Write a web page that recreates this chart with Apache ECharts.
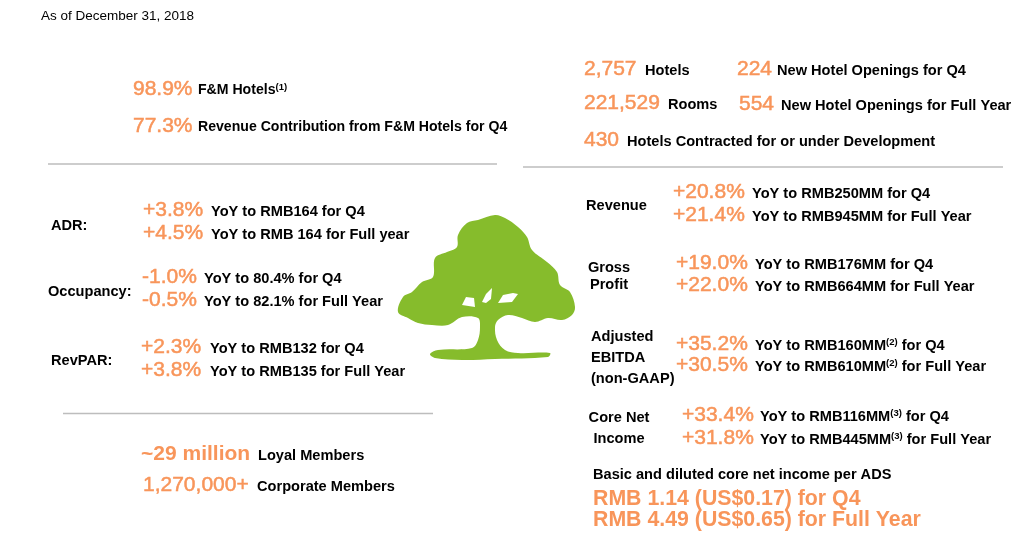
<!DOCTYPE html>
<html>
<head>
<meta charset="utf-8">
<script src="https://cdn.jsdelivr.net/npm/echarts@6/dist/echarts.min.js"></script>
<style>
    html, body { margin: 0; padding: 0; background: #fff; }
    #container { width: 1013px; height: 541px; }
</style>
</head>
<body>
<div id="container"></div>
<script>
// ---- data ----
var asOfDate = 'As of December 31, 2018';

var mixValues = ['98.9%', '77.3%'];
var mixLabels = ['F&M Hotels', 'Revenue Contribution from F&M Hotels for Q4'];
var mixNotes = ['(1)', ''];

var networkValues = ['2,757', '221,529', '224', '554', '430'];
var networkLabels = ['Hotels', 'Rooms', 'New Hotel Openings for Q4',
    'New Hotel Openings for Full Year', 'Hotels Contracted for or under Development'];

var opsMetrics = ['ADR:', 'Occupancy:', 'RevPAR:'];
var opsQ4Change = ['+3.8%', '-1.0%', '+2.3%'];
var opsQ4Text = ['YoY to RMB164 for Q4', 'YoY to 80.4% for Q4', 'YoY to RMB132 for Q4'];
var opsFyChange = ['+4.5%', '-0.5%', '+3.8%'];
var opsFyText = ['YoY to RMB 164 for Full year', 'YoY to 82.1% for Full Year', 'YoY to RMB135 for Full Year'];

var memberValues = ['~29 million', '1,270,000+'];
var memberLabels = ['Loyal Members', 'Corporate Members'];

var finMetrics = [['Revenue'], ['Gross', 'Profit'], ['Adjusted', 'EBITDA', '(non-GAAP)'], ['Core Net', 'Income']];
var finQ4Change = ['+20.8%', '+19.0%', '+35.2%', '+33.4%'];
var finQ4Amount = ['RMB250MM', 'RMB176MM', 'RMB160MM', 'RMB116MM'];
var finFyChange = ['+21.4%', '+22.0%', '+30.5%', '+31.8%'];
var finFyAmount = ['RMB945MM', 'RMB664MM', 'RMB610MM', 'RMB445MM'];
var finNotes = ['', '', '(2)', '(3)'];

var epsTitle = 'Basic and diluted core net income per ADS';
var epsLines = ['RMB 1.14 (US$0.17) for Q4', 'RMB 4.49 (US$0.65) for Full Year'];

// ---- style ----
var ORANGE = '#F8955A';
var GREEN = '#86BC2C';
var FONT = '"Liberation Sans", Arial, sans-serif';
var LABEL_SIZE = 14.6;

var elements = [];

function addText(x, y, text, opts) {
    opts = opts || {};
    elements.push({
        type: 'text',
        x: x,
        y: y,
        style: {
            text: text,
            fill: opts.color || '#000',
            stroke: opts.stroke ? opts.color : null,
            lineWidth: opts.stroke || 0,
            fontFamily: FONT,
            fontSize: opts.size || LABEL_SIZE,
            fontWeight: opts.weight || 'bold',
            align: opts.align || 'left',
            verticalAlign: 'middle',
            rich: {
                s: { fontSize: 9.5, fontWeight: 'bold', fontFamily: FONT, fill: '#000', padding: [0, 0, 7, 0] }
            }
        }
    });
}

function bigNum(x, y, text, weight) {
    // regular digits look a little heavier in the source, a thin stroke mimics that
    var bold = weight === 'bold';
    addText(x, y, text, { color: ORANGE, size: 21, weight: bold ? 'bold' : 'normal', stroke: bold ? 0 : 0.5 });
}

function withNote(text, note) {
    return note ? text + '{s|' + note + '}' : text;
}

function addLine(x1, x2, y) {
    elements.push({
        type: 'line',
        shape: { x1: x1, y1: y, x2: x2, y2: y },
        style: { stroke: '#BDBDBD', lineWidth: 1.5 }
    });
}

// ---- layout ----
addText(41, 16, asOfDate, { size: 13.5, weight: 'normal' });

var mixRows = [89, 126];
mixValues.forEach(function (v, i) {
    bigNum(133, mixRows[i], v);
    addText(198, mixRows[i] + 1.5, withNote(mixLabels[i], mixNotes[i]), { size: 14.1 });
});

var networkPos = [[584, 69, 645], [584, 103, 668], [737, 69, 777], [739, 104, 781], [584, 140, 627]];
networkValues.forEach(function (v, i) {
    var p = networkPos[i];
    bigNum(p[0], p[1], v);
    addText(p[2], p[1] + 1.5, networkLabels[i]);
});

addLine(48, 497, 164);
addLine(523, 1003, 167);
addLine(63, 433, 413.5);

var opsRows = [[51, 225.5, 143, 210, 211], [48, 292, 142, 277.5, 204], [51, 361, 141, 347, 210]];
opsMetrics.forEach(function (m, i) {
    var r = opsRows[i];
    addText(r[0], r[1], m);
    bigNum(r[2], r[3], opsQ4Change[i]);
    addText(r[4], r[3] + 1.5, opsQ4Text[i]);
    bigNum(r[2], r[3] + 23, opsFyChange[i]);
    addText(r[4], r[3] + 24.5, opsFyText[i]);
});

var memberRows = [[141, 454.5, 258, 'bold'], [143, 485.5, 257, 'normal']];
memberValues.forEach(function (v, i) {
    var r = memberRows[i];
    bigNum(r[0], r[1], v, r[3]);
    addText(r[2], r[1] + 1.5, memberLabels[i]);
});

// label x, label y, line gap, align, value x, row y, text x, row gap
var finRows = [
    [586, 206, 0, 'left', 673, 192, 752, 23.5],
    [609, 267.5, 17.5, 'center', 676, 263.5, 755, 22],
    [591, 337, 21, 'left', 676, 344, 755, 21.5],
    [619, 418, 20.5, 'center', 682, 415.5, 760, 22.5]
];
finMetrics.forEach(function (lines, i) {
    var r = finRows[i];
    lines.forEach(function (t, j) {
        addText(r[0], r[1] + j * r[2], t, { align: r[3] });
    });
    bigNum(r[4], r[5], finQ4Change[i]);
    addText(r[6], r[5] + 1.5, 'YoY to ' + withNote(finQ4Amount[i], finNotes[i]) + ' for Q4');
    bigNum(r[4], r[5] + r[7], finFyChange[i]);
    addText(r[6], r[5] + r[7] + 1.5, 'YoY to ' + withNote(finFyAmount[i], finNotes[i]) + ' for Full Year');
});

addText(593, 475, epsTitle);
addText(593, 499.5, epsLines[0], { color: ORANGE, size: 21.3 });
addText(593, 520.5, epsLines[1], { color: ORANGE, size: 21.3 });

// tree illustration
var treeOutline = [
    [398, 312], [403, 297], [412, 292], [422, 282], [433, 277], [435, 258], [447, 252], [457, 247],
    [458, 235], [467, 223], [478, 220], [495, 215], [505, 218], [518, 227], [527, 237], [532, 250],
    [547, 262], [557, 272], [560, 285], [570, 292], [575, 307], [572, 315], [562, 320], [548, 318],
    [535, 322], [522, 318], [508, 315], [498, 320], [495, 327], [497, 340], [505, 350], [518, 353],
    [550, 353], [548, 357], [495, 359], [462, 360], [435, 358], [430, 354], [438, 350], [472, 348],
    [478, 340], [480, 327], [478, 318], [462, 317], [448, 325], [432, 325], [418, 323], [408, 318]
];
var treeHoles = [
    [[462, 305], [466, 297], [474, 298], [475, 307]],
    [[482, 302], [486, 294], [492, 288], [491, 299], [486, 303]],
    [[498, 303], [503, 295], [513, 293], [518, 294], [512, 302]]
];
elements.push({
    type: 'polygon',
    shape: { points: treeOutline, smooth: 0.35 },
    style: { fill: GREEN }
});
treeHoles.forEach(function (pts) {
    elements.push({ type: 'polygon', shape: { points: pts }, style: { fill: '#fff' } });
});

var myChart = echarts.init(document.getElementById('container'));
myChart.setOption({
    backgroundColor: '#fff',
    animation: false,
    graphic: { elements: elements }
});
</script>
</body>
</html>
